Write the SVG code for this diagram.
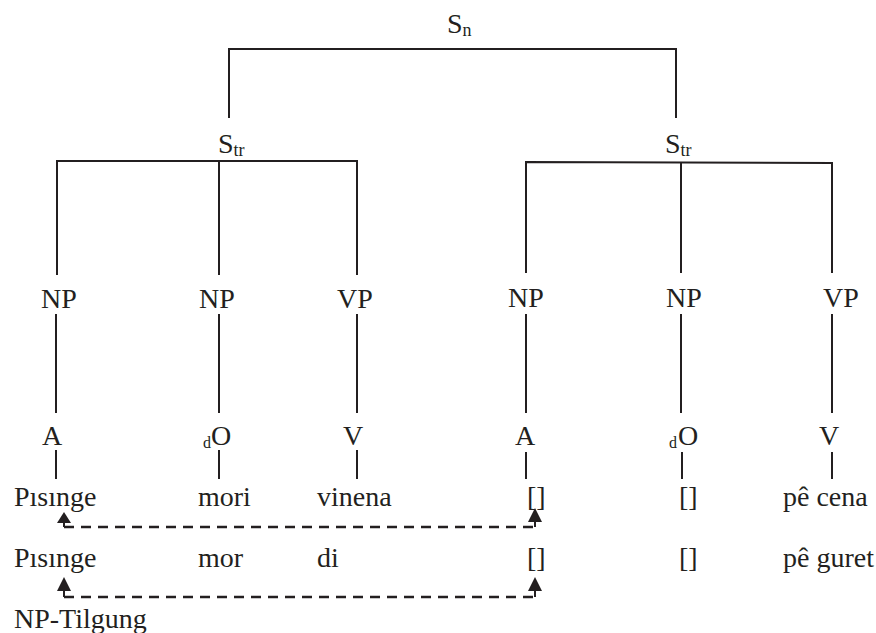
<svg xmlns="http://www.w3.org/2000/svg" width="876" height="633" viewBox="0 0 876 633">
<style>
.t { font-family: 'Liberation Serif', 'Times New Roman', Times, serif; font-size: 28px; fill: #231f20; }
.sub { font-size: 18px; }
.sub2 { font-size: 16px; }
.ln { stroke: #231f20; stroke-width: 2; fill: none; }
.dash { stroke: #231f20; stroke-width: 2.5; fill: none; stroke-dasharray: 10 7; }
.arr { fill: #231f20; }
</style>
<rect width="876" height="633" fill="#ffffff"/>
<g id="connectors">
  <path class="ln" d="M229,118 V49 H676 V118"/>
  <path class="ln" d="M57,275 V161 H357 V275 M219,161 V275"/>
  <path class="ln" d="M526,273 V162 L832,163 V273 M681,162 V273"/>
  <path class="ln" d="M56,314 V413 M219,314 V413 M357,314 V413 M526,314 V413 M681,314 V413 M832,314 V413"/>
  <path class="ln" d="M56,450 V479 M219,450 V479 M357,450 V479 M526,452 V479 M682,452 V479 M832,452 V479"/>
  <path class="dash" d="M64,527 H535"/>
  <path class="ln" d="M64,527 V518 M535,527 V516"/>
  <polygon class="arr" points="64,512 57,523 71,523"/>
  <polygon class="arr" points="535,508 528,522 542,522"/>
  <path class="dash" d="M64,597 H535"/>
  <path class="ln" d="M64,597 V586 M535,597 V586"/>
  <polygon class="arr" points="64,577 57,591 71,591"/>
  <polygon class="arr" points="535,577 528,591 542,591"/>
</g>
<g class="t" font-family="Liberation Serif, serif">
<g id="Sn"><text x="447" y="33">S<tspan class="sub" dy="3">n</tspan></text></g>
<g id="Str1"><text x="218" y="153">S<tspan class="sub" dy="3">tr</tspan></text></g>
<g id="Str2"><text x="665" y="153">S<tspan class="sub" dy="3">tr</tspan></text></g>
<g id="NP1"><text x="41" y="308">NP</text></g>
<g id="NP2"><text x="199" y="308">NP</text></g>
<g id="VP1"><text x="337" y="308">VP</text></g>
<g id="NP3"><text x="508" y="307">NP</text></g>
<g id="NP4"><text x="666" y="307">NP</text></g>
<g id="VP2"><text x="823" y="307">VP</text></g>
<g id="A1"><text x="42" y="445">A</text></g>
<g id="O1"><text class="sub2" x="203" y="448">d</text><text x="211" y="445">O</text></g>
<g id="V1"><text x="343" y="445">V</text></g>
<g id="A2"><text x="515" y="445">A</text></g>
<g id="O2"><text class="sub2" x="669" y="448">d</text><text x="678" y="445">O</text></g>
<g id="V2"><text x="819" y="445">V</text></g>
<g id="row1">
  <text x="14" y="506">Pısınge</text>
  <text x="198" y="506">mori</text>
  <text x="317" y="506">vinena</text>
  <text x="527" y="506">[]</text>
  <text x="679" y="506">[]</text>
  <text x="783" y="506">pê cena</text>
</g>
<g id="row2">
  <text x="14" y="567">Pısınge</text>
  <text x="198" y="567">mor</text>
  <text x="317" y="567">di</text>
  <text x="527" y="567">[]</text>
  <text x="679" y="567">[]</text>
  <text x="783" y="567">pê guret</text>
</g>
<g id="label"><text x="14" y="628">NP-Tilgung</text></g>
</g>
</svg>
